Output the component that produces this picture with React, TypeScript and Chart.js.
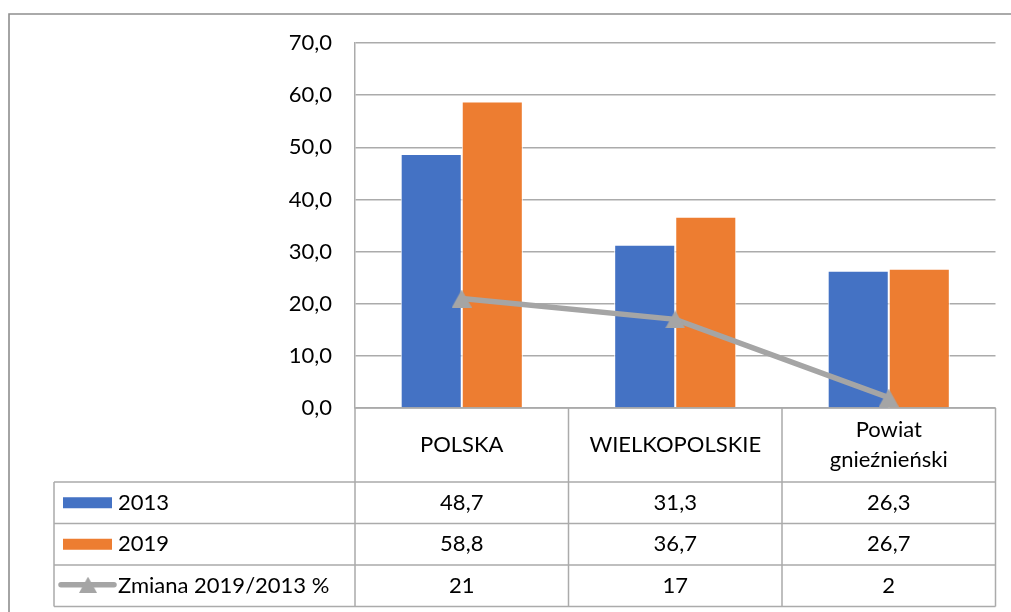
import React, { useEffect, useRef } from 'react';
import { Chart, registerables } from 'chart.js';

Chart.register(...registerables);

// ---- data ----
const categories: (string | string[])[] = ['POLSKA', 'WIELKOPOLSKIE', ['Powiat', 'gnieźnieński']];
const series2013 = [48.7, 31.3, 26.3];
const series2019 = [58.8, 36.7, 26.7];
const seriesChange = [21, 17, 2];
const seriesNames = ['2013', '2019', 'Zmiana 2019/2013 %'];
const yMin = 0;
const yMax = 70;
const yStep = 10;

// ---- styles ----
const BLUE = '#4472C4';
const ORANGE = '#ED7D31';
const GREY_LINE = '#A5A5A5';
const BORDER = '#ABABAB';
const FONT = '22px Lato, "Noto Sans", sans-serif';
const TEXT = '#000000';

const fmt1 = (v: number) => v.toFixed(1).replace('.', ',');

function makeTriangle(w: number, h: number, color: string) {
  const c = document.createElement('canvas');
  c.width = w;
  c.height = h;
  const g = c.getContext('2d')!;
  g.fillStyle = color;
  g.beginPath();
  g.moveTo(w / 2, 0);
  g.lineTo(w, h);
  g.lineTo(0, h);
  g.closePath();
  g.fill();
  return c;
}

export default function App() {
  const ref = useRef<HTMLCanvasElement | null>(null);

  useEffect(() => {
    if (!ref.current) return;
    const tri = makeTriangle(20, 18, GREY_LINE);

    const tablePlugin = {
      id: 'dataTable',
      beforeDraw(chart: any) {
        const ctx = chart.ctx;
        ctx.save();
        ctx.strokeStyle = '#8E8E8E';
        ctx.lineWidth = 1.6;
        ctx.beginPath();
        ctx.moveTo(9, 612);
        ctx.lineTo(9, 14);
        ctx.lineTo(1011, 14);
        ctx.stroke();
        ctx.restore();
      },
      beforeDatasetsDraw(chart: any) {
        const ctx = chart.ctx;
        const area = chart.chartArea;
        const n = categories.length;
        const colW = (area.right - area.left) / n;
        const legendLeft = 54;
        const headerBottom = area.bottom + 74;
        const rowH = 41.5;
        const rows = [headerBottom, headerBottom + rowH, headerBottom + 2 * rowH, headerBottom + 3 * rowH];
        ctx.save();
        ctx.strokeStyle = BORDER;
        ctx.lineWidth = 1.5;
        ctx.beginPath();
        // header row verticals
        for (let i = 0; i <= n; i++) {
          const x = area.left + i * colW;
          ctx.moveTo(x, area.bottom);
          ctx.lineTo(x, rows[3]);
        }
        ctx.moveTo(area.left, area.bottom);
        ctx.lineTo(area.right, area.bottom);
        for (const y of rows) {
          ctx.moveTo(legendLeft, y);
          ctx.lineTo(area.right, y);
        }
        ctx.moveTo(legendLeft, rows[0]);
        ctx.lineTo(legendLeft, rows[3]);
        ctx.stroke();
        ctx.restore();
      },
      afterDraw(chart: any) {
        const ctx = chart.ctx;
        const area = chart.chartArea;
        const xs = chart.scales.x;
        const headerBottom = area.bottom + 74;
        const rowH = 41.5;
        ctx.save();
        ctx.font = FONT;
        ctx.fillStyle = TEXT;
        ctx.textAlign = 'center';
        ctx.textBaseline = 'middle';
        const headerMid = (area.bottom + headerBottom) / 2;
        categories.forEach((c, i) => {
          const x = xs.getPixelForValue(i);
          const lines = Array.isArray(c) ? c : [c];
          const lh = 30;
          lines.forEach((l, j) => {
            ctx.fillText(l, x, headerMid + (j - (lines.length - 1) / 2) * lh);
          });
        });
        const rowData = [
          series2013.map(fmt1),
          series2019.map(fmt1),
          seriesChange.map((v) => String(v)),
        ];
        rowData.forEach((vals, r) => {
          const yMid = headerBottom + r * rowH + rowH / 2;
          vals.forEach((v, i) => {
            ctx.fillText(v, xs.getPixelForValue(i), yMid);
          });
          // legend key
          if (r < 2) {
            ctx.fillStyle = r === 0 ? BLUE : ORANGE;
            ctx.fillRect(63, yMid - 5.5, 49, 11);
          } else {
            ctx.strokeStyle = GREY_LINE;
            ctx.lineWidth = 5.5;
            ctx.lineCap = 'round';
            ctx.beginPath();
            ctx.moveTo(61, yMid - 1);
            ctx.lineTo(114, yMid - 1);
            ctx.stroke();
            ctx.drawImage(tri, 88 - 9, yMid - 1 - 8, 18, 16);
          }
          ctx.fillStyle = TEXT;
          ctx.textAlign = 'left';
          ctx.fillText(seriesNames[r], 118, yMid);
          ctx.textAlign = 'center';
        });
        ctx.restore();
      },
    };

    const chart = new Chart(ref.current, {
      type: 'bar',
      data: {
        labels: categories as any,
        datasets: [
          {
            type: 'line',
            label: seriesNames[2],
            data: seriesChange,
            borderColor: GREY_LINE,
            backgroundColor: GREY_LINE,
            borderWidth: 5.5,
            pointStyle: tri as any,
            pointRadius: 10,
            tension: 0,
            order: 0,
          } as any,
          {
            label: seriesNames[0],
            data: series2013,
            backgroundColor: BLUE,
            borderColor: '#FFFFFF',
            borderWidth: 1,
            categoryPercentage: 0.572,
            barPercentage: 1,
            order: 1,
          },
          {
            label: seriesNames[1],
            data: series2019,
            backgroundColor: ORANGE,
            borderColor: '#FFFFFF',
            borderWidth: 1,
            categoryPercentage: 0.572,
            barPercentage: 1,
            order: 2,
          },
        ],
      },
      options: {
        animation: false,
        responsive: false,
        devicePixelRatio: 1,
        events: [],
        layout: { padding: { left: 0, right: 15, top: 43, bottom: 204 } },
        plugins: {
          legend: { display: false },
          tooltip: { enabled: false },
        },
        scales: {
          x: { display: false },
          y: {
            min: yMin,
            max: yMax,
            ticks: {
              stepSize: yStep,
              padding: 23,
              color: TEXT,
              font: { family: 'Lato, "Noto Sans", sans-serif', size: 22 },
              callback: (v: any) => fmt1(Number(v)),
            },
            grid: { color: BORDER, lineWidth: 1.5, drawTicks: false },
            border: { display: true, color: BORDER, width: 1.5 },
            afterFit: (s: any) => {
              s.width = 355;
            },
          },
        },
      },
      plugins: [tablePlugin],
    });
    return () => chart.destroy();
  }, []);

  return (
    <div style={{ position: 'absolute', left: 0, top: 0, width: 1011, height: 612, background: '#fff' }}>
      <canvas ref={ref} width={1011} height={612} style={{ display: 'block' }} />
    </div>
  );
}
